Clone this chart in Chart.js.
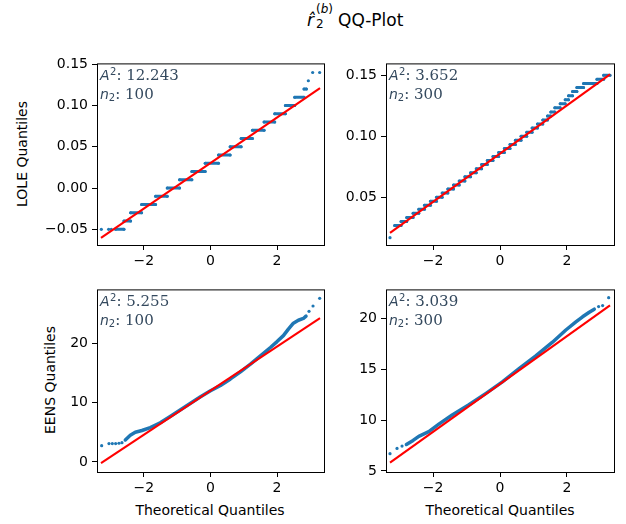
<!DOCTYPE html>
<html>
<head>
<meta charset="utf-8">
<script src="https://cdn.jsdelivr.net/npm/chart.js@4.4.1/dist/chart.umd.min.js"></script>
<style>
  body { margin: 0; background: #fff; width: 626px; height: 524px; position: relative; overflow: hidden; font-family: 'DejaVu Sans', sans-serif; color: #000; }
  canvas { position: absolute; }
  .lbl { position: absolute; font-size: 14px; line-height: 1; white-space: nowrap; }
  .ylbl { transform: translate(-50%, -50%) rotate(-90deg); }
  .xlbl { transform: translate(-50%, -50%); }
  .t { position: absolute; line-height: 1; white-space: nowrap; }
</style>
</head>
<body>

<!-- suptitle: r-hat_2^(b) QQ-Plot -->
<span class="t" style="left:307px; top:12px; font-size:17px; font-style:italic;">r&#770;</span>
<span class="t" style="left:316px; top:2.5px; font-size:12px;">(<i>b</i>)</span>
<span class="t" style="left:316px; top:18px; font-size:12px;">2</span>
<span class="t" style="left:338px; top:12px; font-size:17px;">QQ-Plot</span>

<div class="lbl ylbl" style="left:22px; top:154px;">LOLE Quantiles</div>
<div class="lbl ylbl" style="left:50px; top:380px;">EENS Quantiles</div>
<div class="lbl xlbl" style="left:210px; top:510px;">Theoretical Quantiles</div>
<div class="lbl xlbl" style="left:500px; top:510px;">Theoretical Quantiles</div>

<canvas id="c0"></canvas>
<canvas id="c1"></canvas>
<canvas id="c2"></canvas>
<canvas id="c3"></canvas>

<script>
// ---- data ----
const xTicks = [-2, 0, 2];
const fitX = [-3.29, 3.29];

// top-left: LOLE, n2 = 100 (stepped quantiles)
const tlLevels = [-0.05, -0.04, -0.03, -0.02, -0.01, 0.00, 0.01, 0.02, 0.03, 0.04, 0.05, 0.06, 0.07, 0.08, 0.09, 0.10, 0.11, 0.12];
const tlStart = [-2.85, -2.60, -2.40, -2.07, -1.65, -1.30, -0.93, -0.56, -0.16, 0.24, 0.59, 0.92, 1.26, 1.61, 1.93, 2.25, 2.53, 2.81];
const tlLastEnd = 2.88;
const tlTailX = [-3.28, -3.06, -2.98, 2.94, 3.07, 3.28];
const tlTailY = [-0.05, -0.05, -0.05, 0.13, 0.14, 0.14];
const tlFitY = [-0.0605, 0.121];
const tlYTicks = [-0.05, 0.00, 0.05, 0.10, 0.15];

// top-right: LOLE, n2 = 300
const trLevels = [0.0267, 0.0300, 0.0333, 0.0367, 0.0400, 0.0433, 0.0467, 0.0500, 0.0533, 0.0567,
                  0.0600, 0.0633, 0.0667, 0.0700, 0.0733, 0.0767, 0.0800, 0.0833, 0.0867, 0.0900,
                  0.0933, 0.0967, 0.1000, 0.1033, 0.1067, 0.1100, 0.1133, 0.1167, 0.1200, 0.1233,
                  0.1267, 0.1300, 0.1333, 0.1367, 0.1400, 0.1433, 0.1467, 0.1500];
const trStart = [-3.15, -2.96, -2.79, -2.60, -2.43, -2.26, -2.08, -1.90, -1.73, -1.56,
                 -1.39, -1.22, -1.05, -0.88, -0.71, -0.55, -0.38, -0.21, -0.04, 0.13,
                 0.30, 0.46, 0.63, 0.80, 0.96, 1.12, 1.28, 1.42, 1.52, 1.64,
                 1.80, 1.95, 2.05, 2.17, 2.30, 2.50, 2.90, 3.10];
const trLastEnd = 3.29;
const trTailX = [-3.29];
const trTailY = [0.0167];
const trFitY = [0.0207, 0.1508];
const trYTicks = [0.05, 0.10, 0.15];

// bottom-left: EENS, n2 = 100
const blX = [-2.56, -2.41, -2.26, -2.06, -1.81, -1.51, -1.20, -0.90, -0.60, -0.30, 0.00, 0.30, 0.60, 0.90, 1.20, 1.50, 1.80, 2.00, 2.19, 2.34, 2.49, 2.64, 2.79, 2.87];
const blY = [3.7, 4.5, 5.0, 5.3, 5.8, 6.6, 7.7, 8.8, 9.9, 11.0, 12.0, 12.9, 14.0, 15.2, 16.5, 17.9, 19.3, 20.3, 21.3, 22.4, 23.4, 23.9, 24.2, 24.6];
const blTailX = [-3.27, -3.05, -2.95, -2.85, -2.75, -2.66, 2.96, 3.08, 3.28];
const blTailY = [2.74, 3.1, 3.1, 3.1, 3.15, 3.25, 25.4, 26.3, 27.6];
const blFitY = [-0.2, 24.25];
const blYTicks = [0, 10, 20];

// bottom-right: EENS, n2 = 300
const brX = [-2.80, -2.60, -2.43, -2.13, -1.83, -1.43, -0.93, -0.43, 0.07, 0.57, 1.07, 1.57, 1.97, 2.27, 2.47, 2.67, 2.82];
const brY = [7.6, 8.0, 8.4, 8.86, 9.6, 10.5, 11.5, 12.6, 13.75, 15.05, 16.3, 17.65, 18.85, 19.65, 20.15, 20.6, 20.9];
const brTailX = [-3.29, -3.08, -2.93, 2.95, 3.07, 3.25];
const brTailY = [6.7, 7.22, 7.45, 21.15, 21.25, 22.03];
const brFitY = [5.82, 21.27];
const brYTicks = [5, 10, 15, 20];

const a2Values = ['12.243', '3.652', '5.255', '3.039'];
const n2Values = ['100', '300', '100', '300'];

// ---- styling / layout ----
const BLUE = '#1f77b4';
const RED = '#ff0000';
const TXT = '#34495e';
const Y_W = 60, PAD_T = 12, PAD_R = 8, X_H = 30;

Chart.defaults.font.family = "'DejaVu Sans', sans-serif";
Chart.defaults.font.size = 14;
Chart.defaults.color = '#000';

const fmt = (v, d) => v.toFixed(d).replace('-', '\u2212');

function pairs(xs, ys) {
  return xs.map((x, i) => ({ x: x, y: ys[i] }));
}

function stepPoints(levels, starts, lastEnd) {
  const pts = [];
  levels.forEach((v, i) => {
    const end = i + 1 < starts.length ? starts[i + 1] : lastEnd;
    pts.push({ x: starts[i], y: v }, { x: end, y: v }, { x: end, y: null });
  });
  return pts;
}

const panelDecor = {
  id: 'panelDecor',
  afterDraw(chart, args, opts) {
    const { ctx, chartArea: a } = chart;
    ctx.save();
    ctx.strokeStyle = '#000';
    ctx.lineWidth = 1;
    ctx.strokeRect(a.left + 0.5, a.top + 0.5, a.right - a.left, a.bottom - a.top);

    ctx.fillStyle = TXT;
    ctx.textBaseline = 'alphabetic';
    let x = a.left + 3, y = a.top + 17;
    ctx.font = "italic 14px 'DejaVu Sans'";
    ctx.fillText('A', x, y);
    x += ctx.measureText('A').width + 0.5;
    ctx.font = "10px 'DejaVu Sans'";
    ctx.fillText('2', x, y - 5);
    x += ctx.measureText('2').width;
    ctx.font = "15px 'DejaVu Serif'";
    ctx.fillText(': ' + opts.a2, x, y);

    x = a.left + 3; y += 19;
    ctx.font = "italic 14px 'DejaVu Sans'";
    ctx.fillText('n', x, y);
    x += ctx.measureText('n').width;
    ctx.font = "10px 'DejaVu Sans'";
    ctx.fillText('2', x, y + 2);
    x += ctx.measureText('2').width;
    ctx.font = "15px 'DejaVu Serif'";
    ctx.fillText(': ' + opts.n2, x, y);
    ctx.restore();
  }
};

const panels = [
  { frame: { left: 97, top: 63, w: 227, h: 182 }, yMin: -0.069, yMax: 0.151, yTicks: tlYTicks, dec: 2, xTitle: false,
    body: { data: stepPoints(tlLevels, tlStart, tlLastEnd), width: 3, r: 1.5 },
    tail: pairs(tlTailX, tlTailY), fit: tlFitY },
  { frame: { left: 386, top: 63, w: 228, h: 182 }, yMin: 0.0107, yMax: 0.1598, yTicks: trYTicks, dec: 2, xTitle: false,
    body: { data: stepPoints(trLevels, trStart, trLastEnd), width: 3, r: 1.5 },
    tail: pairs(trTailX, trTailY), fit: trFitY },
  { frame: { left: 97, top: 289, w: 227, h: 183 }, yMin: -1.7, yMax: 29.1, yTicks: blYTicks, dec: 0, xTitle: true,
    body: { data: pairs(blX, blY), width: 3.5, r: 0 },
    tail: pairs(blTailX, blTailY), fit: blFitY },
  { frame: { left: 386, top: 289, w: 228, h: 183 }, yMin: 4.9, yMax: 22.84, yTicks: brYTicks, dec: 0, xTitle: true,
    body: { data: pairs(brX, brY), width: 3.5, r: 0 },
    tail: pairs(brTailX, brTailY), fit: brFitY }
];

panels.forEach((p, i) => {
  const cv = document.getElementById('c' + i);
  const W = Y_W + p.frame.w + PAD_R;
  const H = PAD_T + p.frame.h + X_H;
  cv.width = W; cv.height = H;
  cv.style.width = W + 'px'; cv.style.height = H + 'px';
  cv.style.left = (p.frame.left - Y_W) + 'px';
  cv.style.top = (p.frame.top - PAD_T) + 'px';

  new Chart(cv.getContext('2d'), {
    type: 'scatter',
    data: {
      datasets: [
        { data: pairs(fitX, p.fit), showLine: true, borderColor: RED, borderWidth: 2.1, pointRadius: 0 },
        { data: p.body.data, showLine: true, spanGaps: false, borderColor: BLUE, borderWidth: p.body.width,
          borderCapStyle: 'round', borderJoinStyle: 'round',
          pointRadius: p.body.r, pointBackgroundColor: BLUE, pointBorderWidth: 0 },
        { data: p.tail, showLine: false, pointRadius: 1.6, pointBackgroundColor: BLUE, pointBorderWidth: 0 }
      ]
    },
    options: {
      responsive: false,
      animation: false,
      devicePixelRatio: 1,
      layout: { padding: { top: PAD_T, right: PAD_R, left: 0, bottom: 0 } },
      plugins: {
        legend: { display: false },
        tooltip: { enabled: false },
        panelDecor: { a2: a2Values[i], n2: n2Values[i] }
      },
      scales: {
        x: {
          type: 'linear', min: -3.41, max: 3.41,
          afterBuildTicks: s => { s.ticks = xTicks.map(v => ({ value: v })); },
          afterFit: s => { s.height = X_H; },
          ticks: { callback: v => fmt(v, 0), padding: 3, maxRotation: 0, autoSkip: false },
          grid: { drawOnChartArea: false, drawTicks: true, tickLength: 5, tickColor: '#000', tickWidth: 1 },
          border: { display: false }
        },
        y: {
          type: 'linear', min: p.yMin, max: p.yMax,
          afterBuildTicks: s => { s.ticks = p.yTicks.map(v => ({ value: v })); },
          afterFit: s => { s.width = Y_W; },
          ticks: { callback: v => fmt(v, p.dec), padding: 4, autoSkip: false },
          grid: { drawOnChartArea: false, drawTicks: true, tickLength: 5, tickColor: '#000', tickWidth: 1 },
          border: { display: false }
        }
      }
    },
    plugins: [panelDecor]
  });
});
</script>
</body>
</html>
